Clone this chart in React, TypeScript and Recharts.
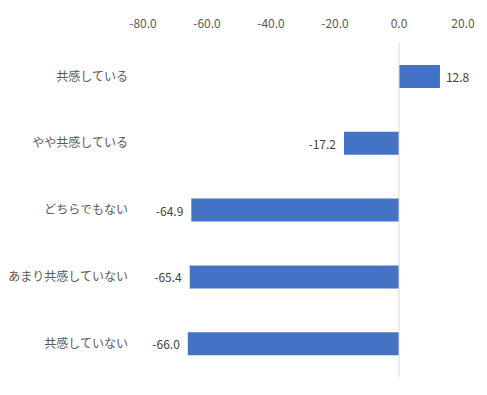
import { BarChart, Bar, XAxis, YAxis, ReferenceLine, LabelList } from 'recharts';

const categories = ['共感している', 'やや共感している', 'どちらでもない', 'あまり共感していない', '共感していない'];
const values = [12.8, -17.2, -64.9, -65.4, -66.0];
const xTicks = [-80, -60, -40, -20, 0, 20];

const data = categories.map((name, i) => ({ name, value: values[i] }));

const FONT = '"Noto Sans CJK JP", "Noto Sans", sans-serif';

const ValueLabel = (props: any) => {
  const { x, y, width, height, value } = props;
  const left = Math.min(x, x + width);
  const right = Math.max(x, x + width);
  const neg = value < 0;
  return (
    <text
      x={neg ? left - 8 : right + 6}
      y={y + height / 2}
      textAnchor={neg ? 'end' : 'start'}
      dominantBaseline="central"
      fill="#404040"
      fontSize={12}
      fontFamily={FONT}
    >
      {Number(value).toFixed(1)}
    </text>
  );
};

const App = () => {
  return (
    <div style={{ position: 'absolute', left: 0, top: 0, background: '#fff' }}>
      <BarChart
        width={487}
        height={395}
        data={data}
        layout="vertical"
        margin={{ top: 13, right: 24, bottom: 18, left: 0 }}
        barSize={23}
      >
        <XAxis
          type="number"
          orientation="top"
          domain={[-80, 20]}
          ticks={xTicks}
          tickFormatter={(v: number) => v.toFixed(1)}
          axisLine={false}
          tickLine={false}
          tickSize={0}
          tickMargin={15}
          height={30}
          tick={{ fill: '#595959', fontSize: 12, fontFamily: FONT }}
        />
        <YAxis
          type="category"
          dataKey="name"
          width={143}
          axisLine={false}
          tickLine={false}
          tickSize={0}
          tickMargin={15}
          tick={{ fill: '#595959', fontSize: 12, fontFamily: FONT }}
        />
        <ReferenceLine x={0} stroke="#d9d9d9" strokeWidth={1} />
        <Bar dataKey="value" fill="#4472C4" isAnimationActive={false}>
          <LabelList dataKey="value" content={<ValueLabel />} />
        </Bar>
      </BarChart>
    </div>
  );
};

export default App;
